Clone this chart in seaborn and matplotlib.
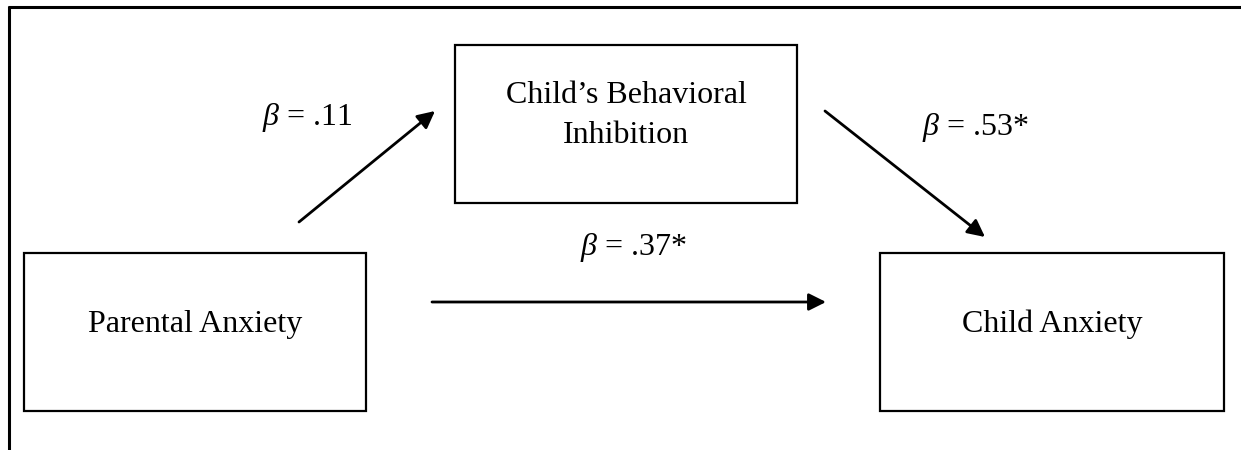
import matplotlib
matplotlib.use("Agg")
import matplotlib.pyplot as plt
import seaborn as sns
from matplotlib.patches import Rectangle

# nodes of the mediation model
nodes = ["Parental Anxiety", "Child\u2019s Behavioral\nInhibition", "Child Anxiety"]
# path coefficients: a (X->M), b (M->Y), c' (X->Y)
paths = ["$\\beta$ = .11", "$\\beta$ = .53*", "$\\beta$ = .37*"]

sns.set_theme(style="white")
plt.rcParams["font.family"] = ["Liberation Serif", "DejaVu Serif"]
plt.rcParams["mathtext.fontset"] = "custom"
plt.rcParams["mathtext.it"] = "Liberation Serif:italic"
plt.rcParams["mathtext.rm"] = "Liberation Serif"

fig = plt.figure(figsize=(12.41, 4.5), dpi=100)
ax = fig.add_axes([0, 0, 1, 1])
ax.set_xlim(0, 1241)
ax.set_ylim(450, 0)
ax.axis("off")

# outer frame (top and left only)
ax.plot([8, 1241], [6.7, 6.7], color="black", lw=2.2, solid_capstyle="butt")
ax.plot([8.8, 8.8], [5.7, 450], color="black", lw=2.2, solid_capstyle="butt")

# boxes: x0, y0, x1, y1 and baseline of first text line
boxes = [(24, 253, 366, 411), (455, 45, 797, 203), (880, 253, 1224, 411)]
baselines = [332, 103, 332]
for (x0, y0, x1, y1), base, name in zip(boxes, baselines, nodes):
    ax.add_patch(Rectangle((x0, y0), x1 - x0, y1 - y0, fill=False,
                           edgecolor="black", lw=1.6))
    for i, line in enumerate(name.split("\n")):
        ax.text((x0 + x1) / 2, base + 40 * i, line, ha="center", va="baseline",
                fontsize=23, color="black")

arrows = [((299, 222), (435, 111)), ((825, 111), (985, 237)), ((432, 302), (826, 302))]
label_pos = [(307, 125), (975, 135), (633, 255)]
for ((x0, y0), (x1, y1)), (xl, yl), lab in zip(arrows, label_pos, paths):
    ax.annotate("", xy=(x1, y1), xytext=(x0, y0),
                arrowprops=dict(arrowstyle="-|>", color="black", lw=2.0,
                                mutation_scale=26, shrinkA=0, shrinkB=0))
    ax.text(xl, yl, lab, ha="center", va="baseline", fontsize=23, color="black")

fig.savefig("out.png", dpi=100, facecolor="white")
